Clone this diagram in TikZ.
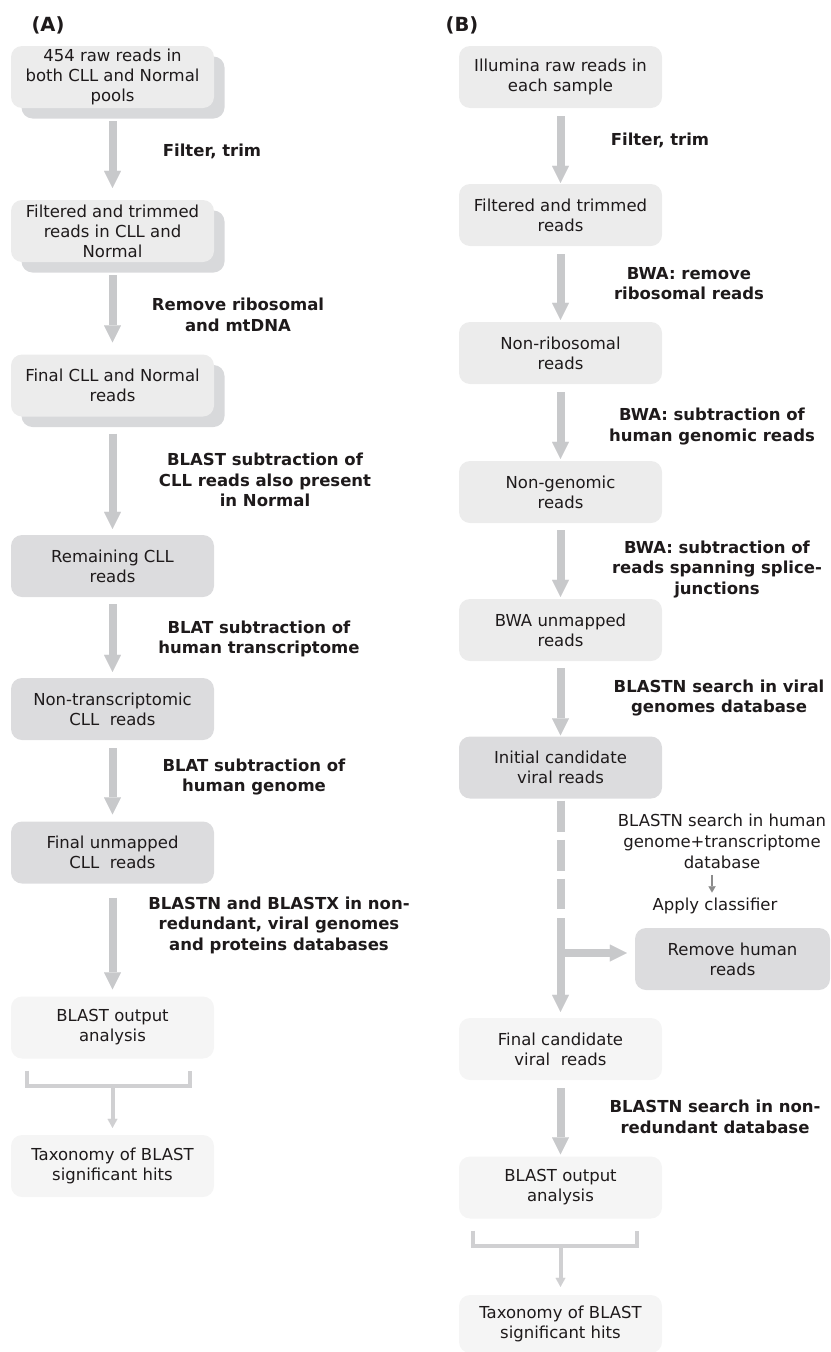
\documentclass[tikz,border=0pt]{standalone}
\usepackage{fontspec}
\setmainfont{DejaVu Sans}
\usetikzlibrary{arrows.meta,shadows,calc}
\definecolor{txt}{HTML}{1E1A1B}
\definecolor{boxL}{HTML}{ECECEC}
\definecolor{boxD}{HTML}{DCDCDE}
\definecolor{boxW}{HTML}{F5F5F5}
\definecolor{shadowgray}{HTML}{D8D9DB}
\definecolor{arrowgray}{HTML}{C8C9CB}
\definecolor{brkgray}{HTML}{D0D0D2}
\definecolor{smallgray}{HTML}{8C8C8C}
\begin{document}
\begin{tikzpicture}[x=1pt,y=-1pt,
  font=\fontsize{16.5}{20}\selectfont, text=txt,
  box/.style={rounded corners=11pt, minimum width=203pt, minimum height=62pt, align=center, inner sep=0pt},
  lbox/.style={box, fill=boxL},
  sbox/.style={lbox, drop shadow={shadow xshift=10.5pt, shadow yshift=-10.5pt, fill=shadowgray, opacity=1}},
  dbox/.style={box, fill=boxD},
  wbox/.style={box, fill=boxW},
  lab/.style={font=\fontsize{16.5}{20.5}\bfseries\selectfont, align=center},
  plain/.style={align=center, font=\fontsize{16.5}{21}\selectfont},
  panel/.style={font=\fontsize{19.5}{23}\bfseries\selectfont},
  flow/.style={draw=arrowgray, line width=8pt, -{Triangle[width=17pt,length=17pt,line width=0.01pt]}},
  brk/.style={draw=brkgray, line width=4pt},
  brkarrow/.style={draw=brkgray, line width=4pt, -{Triangle[width=10pt,length=9pt,line width=0.01pt]}},
  smallarrow/.style={draw=smallgray, line width=2.5pt, -{Triangle[width=7pt,length=6pt,line width=0.01pt]}}
]
\useasboundingbox (0,0) rectangle (830,1352);

% ---------- Panel A ----------
\node[panel] (lA) at (48,25) {(A)};
\node[sbox] (a1) at (112.5,77) {454 raw reads in\\both CLL and Normal\\pools};
\node[sbox] (a2) at (112.5,231) {Filtered and trimmed\\reads in CLL and\\Normal};
\node[sbox] (a3) at (112.5,385.5) {Final CLL and Normal\\reads};
\node[dbox] (a4) at (112.5,566) {Remaining CLL\\reads};
\node[dbox] (a5) at (112.5,709) {Non-transcriptomic\\CLL\ \ reads};
\node[dbox] (a6) at (112.5,852.5) {Final unmapped\\CLL\ \ reads};
\node[wbox] (a7) at (112.5,1027.5) {BLAST output\\analysis};
\node[wbox] (a8) at (112.5,1166) {Taxonomy of BLAST\\significant hits};

\node[lab] (ta1) at (212,151) {Filter, trim};
\node[lab] (ta2) at (238,315) {Remove ribosomal\\and mtDNA};
\node[lab] (ta3) at (265,480) {BLAST subtraction of\\CLL reads also present\\in Normal};
\node[lab] (ta4) at (259,639) {BLAT subtraction of\\human transcriptome};
\node[lab] (ta5) at (254,777) {BLAT subtraction of\\human genome};
\node[lab] (ta6) at (279,925) {BLASTN and BLASTX in non-\\redundant, viral genomes\\and proteins databases};

\draw[flow, shorten <=13pt, shorten >=12pt] (a1) -- (a2);
\draw[flow, shorten <=13pt, shorten >=12pt] (a2) -- (a3);
\draw[flow, shorten <=17pt, shorten >=6pt] (a3) -- (a4);
\draw[flow, shorten <=7pt, shorten >=6pt] (a4) -- (a5);
\draw[flow, shorten <=8pt, shorten >=7pt] (a5) -- (a6);
\draw[flow, shorten <=14pt, shorten >=7pt] (a6) -- (a7);

\draw[brk] ($(a7.south west)+(16,12)$) |- ($(a7.south)+(0,27)$) -| ($(a7.south east)+(-24,12)$);
\coordinate (abr) at ($(a7.south)+(0,27)$);
\draw[brkarrow, shorten >=7pt] (abr) -- (a8.north);

% ---------- Panel B ----------
\node[panel] (lB) at (462,25) {(B)};
\node[lbox] (b1) at (560.5,77) {Illumina raw reads in\\each sample};
\node[lbox] (b2) at (560.5,215) {Filtered and trimmed\\reads};
\node[lbox] (b3) at (560.5,353) {Non-ribosomal\\reads};
\node[lbox] (b4) at (560.5,492) {Non-genomic\\reads};
\node[lbox] (b5) at (560.5,630) {BWA unmapped\\reads};
\node[dbox] (b6) at (560.5,767.5) {Initial candidate\\viral reads};
\node[wbox] (b7) at (560.5,1049) {Final candidate\\viral\ \ reads};
\node[wbox] (b8) at (560.5,1187.5) {BLAST output\\analysis};
\node[wbox, minimum height=58pt] (b9) at (560.5,1324) {Taxonomy of BLAST\\significant hits};
\node[dbox, minimum width=195pt] (rh) at (732.5,959) {Remove human\\reads};

\node[lab] (tb1) at (660,140) {Filter, trim};
\node[lab] (tb2) at (689,283.5) {BWA: remove\\ribosomal reads};
\node[lab] (tb3) at (712,426.5) {BWA: subtraction of\\human genomic reads};
\node[lab] (tb4) at (717,569.5) {BWA: subtraction of\\reads spanning splice-\\junctions};
\node[lab] (tb5) at (719,698) {BLASTN search in viral\\genomes database};
\node[lab] (tb6) at (715,1117) {BLASTN search in non-\\redundant database};

\node[plain] (hs) at (722,841) {BLASTN search in human\\genome+transcriptome\\database};
\node[plain] (ac) at (715,906) {Apply classifier};
\draw[smallarrow] ([xshift=-10pt,yshift=-3pt]hs.south) -- ([xshift=-3pt,yshift=2pt]ac.north);

\draw[flow, shorten <=8pt, shorten >=1pt] (b1) -- (b2);
\draw[flow, shorten <=8pt, shorten >=2pt] (b2) -- (b3);
\draw[flow, shorten <=8pt, shorten >=2pt] (b3) -- (b4);
\draw[flow, shorten <=7pt, shorten >=2pt] (b4) -- (b5);
\draw[flow, shorten <=7pt, shorten >=1pt] (b5) -- (b6);

\coordinate (d1) at (560.5,909);
\coordinate (d2) at (560.5,918);
\coordinate (br) at (560.5,953);
\draw[flow, -, dash pattern=on 31pt off 8pt, shorten <=2pt] (b6.south) -- (d1);
\draw[flow, shorten >=6pt] (d2) -- (b7.north);
\draw[flow, shorten >=8pt] (br) -- (br -| rh.west);

\draw[flow, shorten <=8pt, shorten >=2pt] (b7) -- (b8);

\draw[brk] ($(b8.south west)+(14,12)$) |- ($(b8.south)+(0,27)$) -| ($(b8.south east)+(-25,12)$);
\coordinate (bbr) at ($(b8.south)+(0,27)$);
\draw[brkarrow, shorten >=8pt] (bbr) -- (b9.north);
\end{tikzpicture}
\end{document}
